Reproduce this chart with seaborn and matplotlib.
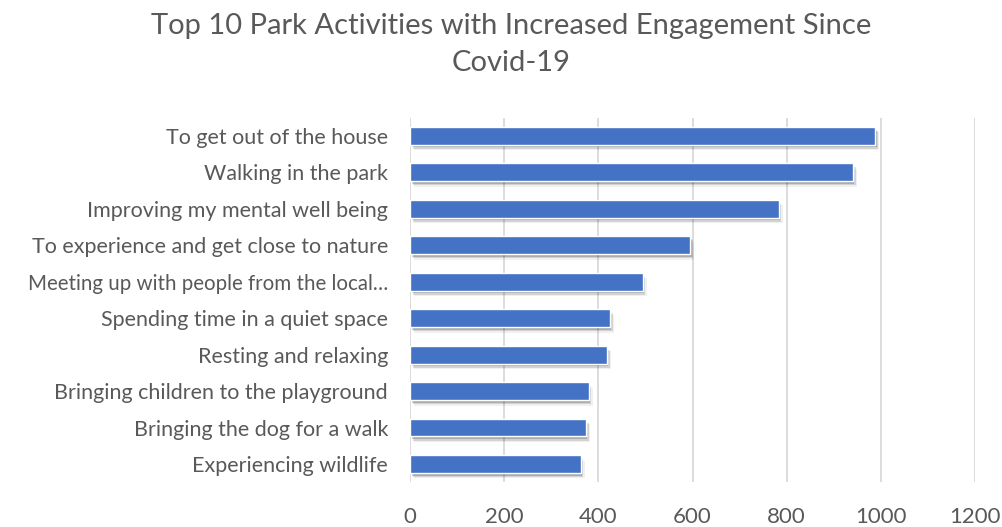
import matplotlib
matplotlib.use("Agg")
import matplotlib.pyplot as plt
import matplotlib.patheffects as pe
import seaborn as sns
import pandas as pd

activities = [
    "To get out of the house",
    "Walking in the park",
    "Improving my mental well being",
    "To experience and get close to nature",
    "Meeting up with people from the local…",
    "Spending time in a quiet space",
    "Resting and relaxing",
    "Bringing children to the playground",
    "Bringing the dog for a walk",
    "Experiencing wildlife",
]
counts = [988, 941, 783, 595, 494, 424, 418, 379, 373, 362]
x_ticks = [0, 200, 400, 600, 800, 1000, 1200]

df = pd.DataFrame({"activity": activities, "count": counts})

sns.set_theme(style="white")
plt.rcParams["font.family"] = ["Lato", "DejaVu Sans"]

fig = plt.figure(figsize=(10.03, 5.27), dpi=100)
ax = fig.add_axes([0.409, 0.085, 0.563, 0.692])

sns.barplot(data=df, x="count", y="activity", color="#4472C4",
            width=0.49, saturation=1, ax=ax, zorder=3)

# soft drop shadow under each bar
shadow = [pe.SimplePatchShadow(offset=(dx, dy), shadow_rgbFace="#000000", alpha=a)
          for dx, dy, a in [(1, -2, 0.18), (2, -3, 0.12), (3, -4, 0.06)]]
for bar in ax.patches:
    bar.set_path_effects(shadow + [pe.Normal()])

ax.set_xlim(0, 1200)
ax.set_xticks(x_ticks)
ax.set_xticklabels([str(t) for t in x_ticks])
ax.xaxis.grid(True, color="#D9D9D9", linewidth=1.3, zorder=0)
ax.set_axisbelow(True)
for s in ax.spines.values():
    s.set_visible(False)
ax.tick_params(axis="both", length=0, labelsize=16, labelcolor="#595959")
ax.tick_params(axis="y", labelsize=15.5, pad=16)
ax.tick_params(axis="x", pad=18)
for lab in ax.get_yticklabels():
    if lab.get_text().endswith("…"):
        lab.set_fontsize(14.8)
ax.set_xlabel("")
ax.set_ylabel("")

fig.suptitle("Top 10 Park Activities with Increased Engagement Since\nCovid-19",
             x=0.51, y=0.975, fontsize=21, color="#595959", linespacing=1.5)

fig.savefig("out.png", dpi=100)
